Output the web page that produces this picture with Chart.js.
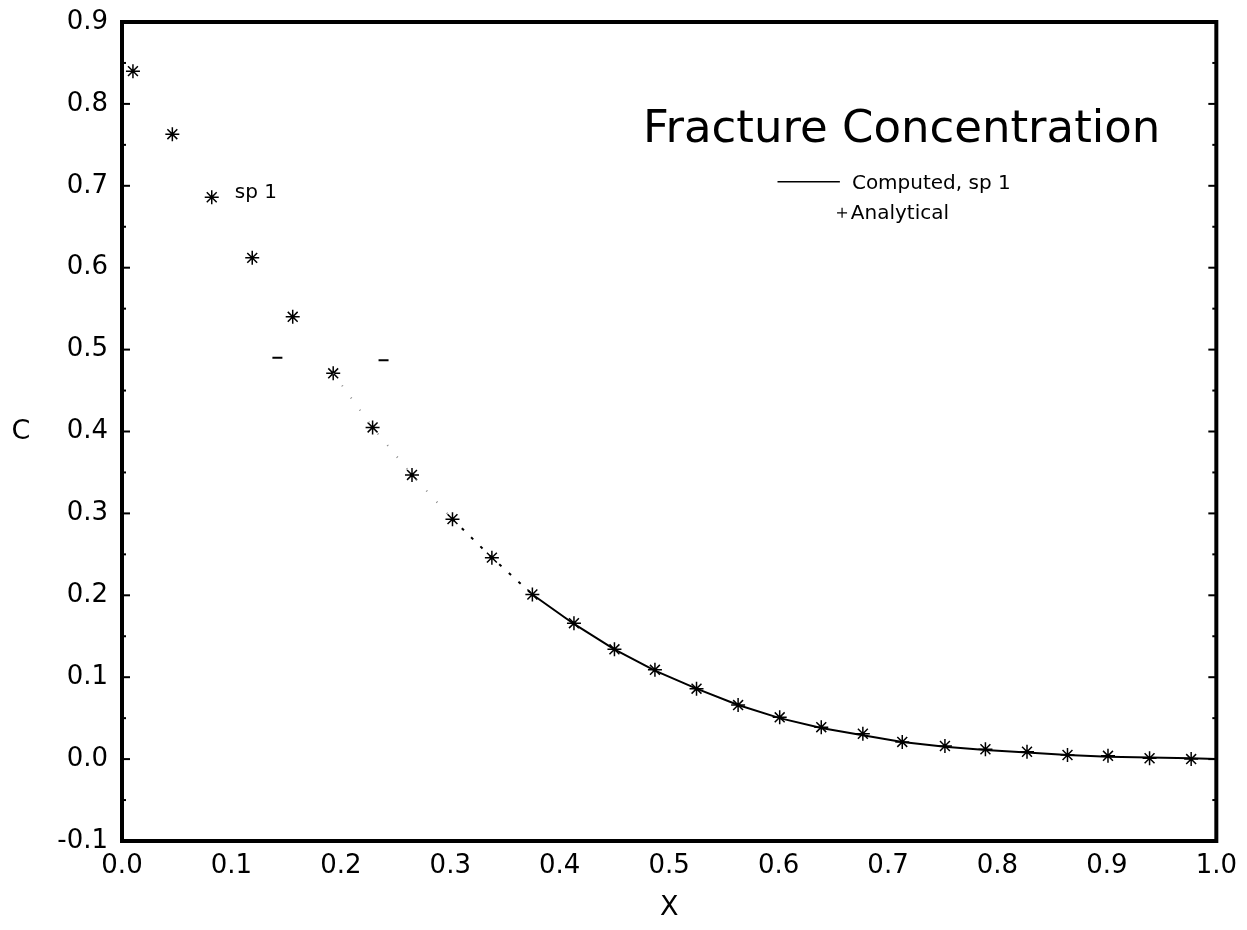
<!doctype html>
<html>

<head>
	<title>Fracture Concentration</title>
	<script src="https://cdn.jsdelivr.net/npm/chart.js@4.4.1/dist/chart.umd.min.js"></script>
	<style>
	body {
		margin: 0;
		background: #fff;
	}
	.chart-container {
		width: 1247px;
		height: 930px;
	}
	</style>
</head>

<body>
	<div class="chart-container"><canvas id="chart"></canvas></div>
	<script>
		// analytical solution, sampled along the fracture
		var analyticalX = [0.010, 0.046, 0.082, 0.119, 0.156, 0.193, 0.229, 0.265, 0.302, 0.338, 0.375, 0.413, 0.450,
			0.487, 0.525, 0.563, 0.601, 0.639, 0.677, 0.713, 0.752, 0.789, 0.827, 0.864, 0.901, 0.939, 0.977];
		var analyticalC = [0.840, 0.763, 0.686, 0.612, 0.540, 0.471, 0.405, 0.347, 0.293, 0.246, 0.201, 0.166, 0.134,
			0.109, 0.086, 0.066, 0.051, 0.039, 0.031, 0.021, 0.016, 0.012, 0.009, 0.005, 0.004, 0.001, 0.000];

		// computed profile for species 1
		var computedX = [0.193, 0.229, 0.265, 0.302, 0.338, 0.375, 0.413, 0.450, 0.487, 0.525, 0.563, 0.601, 0.639,
			0.677, 0.713, 0.752, 0.789, 0.827, 0.864, 0.901, 0.939, 0.977, 1.000];
		var computedC = [0.471, 0.405, 0.347, 0.293, 0.246, 0.201, 0.165, 0.134, 0.108, 0.086, 0.066, 0.050, 0.038,
			0.029, 0.021, 0.015, 0.011, 0.008, 0.005, 0.003, 0.002, 0.001, 0.000];

		// two stray dash marks near C = 0.49
		var strayX = [0.142, 0.239];
		var strayC = [0.490, 0.487];

		var xTickValues = [0.0, 0.1, 0.2, 0.3, 0.4, 0.5, 0.6, 0.7, 0.8, 0.9, 1.0];
		var yTickValues = [-0.1, 0.0, 0.1, 0.2, 0.3, 0.4, 0.5, 0.6, 0.7, 0.8, 0.9];

		var FONT = "'DejaVu Sans', sans-serif";

		function toPoints(xs, ys) {
			return xs.map(function(x, i) {
				return {x: x, y: ys[i]};
			});
		}

		// frame, inward ticks and the text placed inside the plot
		var framePlugin = {
			id: 'framePlugin',
			afterDatasetsDraw: function(chart) {
				var ctx = chart.ctx;
				var a = chart.chartArea;
				var xs = chart.scales.x;
				var ys = chart.scales.y;
				var px = function(v) { return xs.getPixelForValue(v); };
				var py = function(v) { return ys.getPixelForValue(v); };

				ctx.save();
				ctx.strokeStyle = '#000';
				ctx.fillStyle = '#000';

				ctx.lineWidth = 2;
				function tick(x, y, len) {
					ctx.beginPath();
					ctx.moveTo(x, y);
					ctx.lineTo(x + len, y);
					ctx.stroke();
				}
				yTickValues.forEach(function(v, i) {
					tick(a.left, py(v), 8);
					tick(a.right, py(v), -8);
					if (i < yTickValues.length - 1) {
						tick(a.left, py(v + 0.05), 4);
						tick(a.right, py(v + 0.05), -4);
					}
				});

				ctx.lineWidth = 4;
				ctx.strokeRect(a.left, a.top, a.right - a.left, a.bottom - a.top);

				ctx.textBaseline = 'middle';
				ctx.textAlign = 'left';

				ctx.font = '45px ' + FONT;
				ctx.fillText('Fracture Concentration', px(0.476), py(0.768));

				// legend
				ctx.lineWidth = 1.5;
				ctx.beginPath();
				ctx.moveTo(px(0.599), py(0.705));
				ctx.lineTo(px(0.656), py(0.705));
				ctx.stroke();
				ctx.font = '20px ' + FONT;
				ctx.fillText('Computed, sp 1', px(0.667), py(0.702));

				var mx = px(0.658), my = py(0.667);
				ctx.lineWidth = 1.2;
				ctx.beginPath();
				ctx.moveTo(mx - 5, my);
				ctx.lineTo(mx + 5, my);
				ctx.moveTo(mx, my - 5);
				ctx.lineTo(mx, my + 5);
				ctx.stroke();
				ctx.fillText('Analytical', px(0.666), py(0.666));

				ctx.fillText('sp 1', px(0.103), py(0.691));

				// y axis title, kept upright
				ctx.font = '27px ' + FONT;
				ctx.textAlign = 'center';
				ctx.fillText('C', 21, py(0.4));
				ctx.restore();
			}
		};

		window.onload = function() {
			var ctx = document.getElementById('chart').getContext('2d');
			new Chart(ctx, {
				type: 'scatter',
				data: {
					datasets: [{
						label: 'Computed, sp 1',
						data: toPoints(computedX, computedC),
						showLine: true,
						pointRadius: 0,
						borderColor: '#000',
						borderWidth: 2,
						segment: {
							borderDash: function(c) {
								if (c.p0.parsed.x < 0.30) return [1, 14];
								if (c.p0.parsed.x < 0.37) return [3, 10];
								return undefined;
							},
							borderColor: function(c) {
								return c.p0.parsed.x < 0.30 ? '#888' : undefined;
							}
						}
					}, {
						label: 'Analytical',
						data: toPoints(analyticalX, analyticalC),
						pointStyle: 'star',
						pointRadius: 7,
						borderWidth: 1.5,
						borderColor: '#000',
						backgroundColor: '#000'
					}, {
						label: 'marks',
						data: toPoints(strayX, strayC),
						pointStyle: 'line',
						pointRadius: 5,
						borderWidth: 2,
						borderColor: '#000'
					}]
				},
				options: {
					responsive: true,
					maintainAspectRatio: false,
					animation: false,
					layout: {
						padding: {top: 22, right: 30, left: 0, bottom: 0}
					},
					plugins: {
						legend: {display: false},
						tooltip: {enabled: false}
					},
					scales: {
						x: {
							type: 'linear',
							min: 0,
							max: 1,
							afterBuildTicks: function(scale) {
								scale.ticks = xTickValues.map(function(v) { return {value: v}; });
							},
							afterFit: function(scale) {
								scale.height = 89;
							},
							grid: {display: false, drawTicks: false},
							border: {display: false},
							ticks: {
								color: '#000',
								padding: 10,
								maxRotation: 0,
								font: {family: FONT, size: 26},
								callback: function(v) { return Number(v).toFixed(1); }
							},
							title: {
								display: true,
								text: 'X',
								color: '#000',
								font: {family: FONT, size: 27},
								padding: {top: 0, bottom: 6}
							}
						},
						y: {
							type: 'linear',
							min: -0.1,
							max: 0.9,
							afterBuildTicks: function(scale) {
								scale.ticks = yTickValues.map(function(v) { return {value: v}; });
							},
							afterFit: function(scale) {
								scale.width = 122;
								scale.paddingTop = 0;
								scale.paddingBottom = 0;
							},
							grid: {display: false, drawTicks: false},
							border: {display: false},
							ticks: {
								color: '#000',
								padding: 14,
								font: {family: FONT, size: 26},
								callback: function(v) { return Number(v).toFixed(1); }
							}
						}
					}
				},
				plugins: [framePlugin]
			});
		};
	</script>
</body>

</html>
